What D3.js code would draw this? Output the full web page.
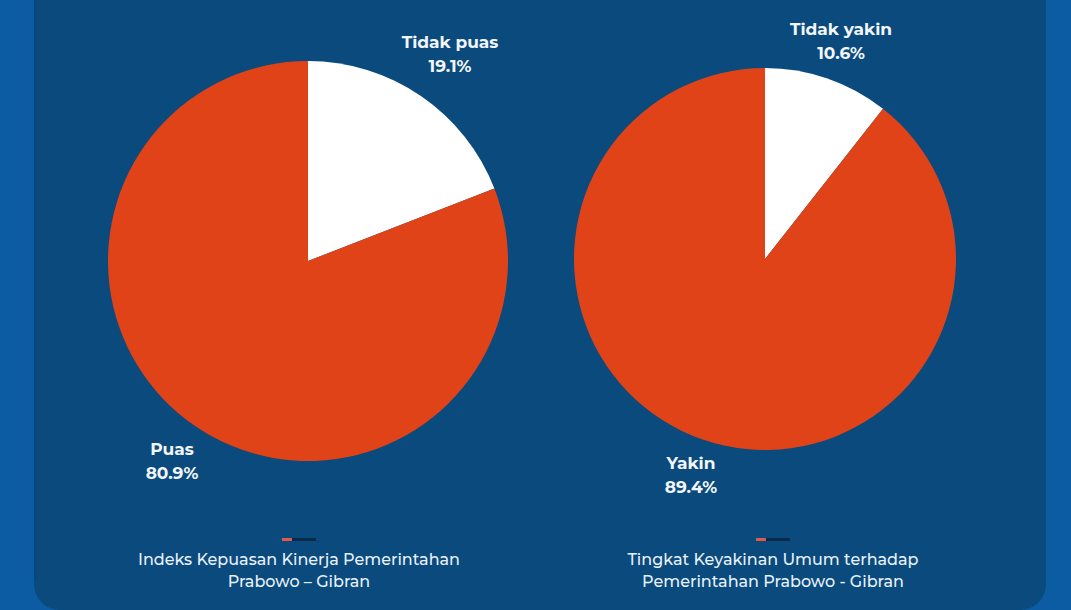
<!DOCTYPE html>
<html>
<head>
<meta charset="utf-8">
<script src="https://cdn.jsdelivr.net/npm/d3@7"></script>
<style>
  html, body { margin: 0; padding: 0; background: #0b5ca3; }
  svg { display: block; }
</style>
</head>
<body>
<svg id="chart" width="1071" height="610"></svg>
<script>
// pie 1: government performance satisfaction
var pie1Labels = ["Tidak puas", "Puas"];
var pie1Values = [19.1, 80.9];
// pie 2: general confidence
var pie2Labels = ["Tidak yakin", "Yakin"];
var pie2Values = [10.6, 89.4];
var captions = [
  ["Indeks Kepuasan Kinerja Pemerintahan", "Prabowo \u2013 Gibran"],
  ["Tingkat Keyakinan Umum terhadap", "Pemerintahan Prabowo - Gibran"]
];

var W = 1071, H = 610;
var svg = d3.select("#chart");
var font = "Montserrat, 'Open Sans', Lato, sans-serif";
var sliceColors = ["#ffffff", "#e04317"];

// outer + inner panel
svg.append("rect").attr("width", W).attr("height", H).attr("fill", "#0b5ca3");
svg.append("rect").attr("x", 34).attr("y", -40).attr("width", 1012).attr("height", 650)
  .attr("rx", 26).attr("fill", "#0a4a7d");
svg.append("rect").attr("x", 34).attr("y", -40).attr("width", 3).attr("height", 620)
  .attr("fill", "#0a4677");

var pie = d3.pie().sort(null).value(function (d) { return d; });

function drawPie(cfg) {
  var g = svg.append("g").attr("transform", "translate(" + cfg.cx + "," + cfg.cy + ")");
  var arc = d3.arc().innerRadius(0).outerRadius(cfg.r);
  g.selectAll("path").data(pie(cfg.values)).enter().append("path")
    .attr("d", arc)
    .attr("fill", function (d, i) { return sliceColors[i]; });

  cfg.labels.forEach(function (name, i) {
    var t = svg.append("text")
      .attr("x", cfg.labelPos[i][0]).attr("y", cfg.labelPos[i][1])
      .attr("text-anchor", "middle")
      .attr("font-family", font).attr("font-weight", 700).attr("font-size", 17)
      .attr("fill", "#f2f6fa");
    t.append("tspan").attr("x", cfg.labelPos[i][0]).attr("dy", 0).text(name);
    t.append("tspan").attr("x", cfg.labelPos[i][0]).attr("dy", 24)
      .text(cfg.values[i].toFixed(1) + "%");
  });

  // small legend marker
  svg.append("rect").attr("x", cfg.capX - 17).attr("y", 538).attr("width", 10).attr("height", 3)
    .attr("fill", "#e05a4a");
  svg.append("rect").attr("x", cfg.capX - 7).attr("y", 538).attr("width", 24).attr("height", 3)
    .attr("fill", "#0a2a4a");

  var c = svg.append("text")
    .attr("text-anchor", "middle")
    .attr("font-family", font).attr("font-size", 16).attr("font-weight", 500)
    .attr("fill", "#e8f1fa");
  cfg.caption.forEach(function (line, j) {
    c.append("tspan").attr("x", cfg.capX).attr("y", 565 + j * 22).text(line);
  });
}

drawPie({
  cx: 308, cy: 261, r: 200,
  values: pie1Values, labels: pie1Labels,
  labelPos: [[450, 48], [172, 455]],
  caption: captions[0], capX: 299
});
drawPie({
  cx: 765, cy: 259, r: 191,
  values: pie2Values, labels: pie2Labels,
  labelPos: [[841, 35], [691, 469]],
  caption: captions[1], capX: 773
});
</script>
</body>
</html>
